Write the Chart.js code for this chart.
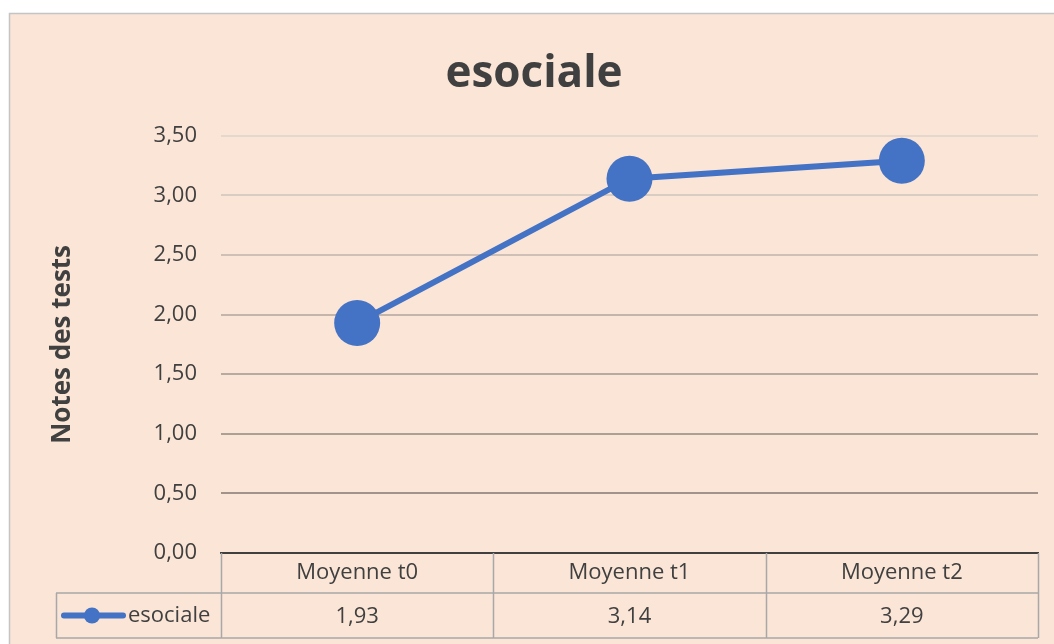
<!DOCTYPE html>
<html>
<head>
<meta charset="utf-8">
<script src="https://cdn.jsdelivr.net/npm/chart.js@4/dist/chart.umd.min.js"></script>
<style>
  html, body { margin: 0; padding: 0; background: #fff; }
  #wrap { width: 1054px; height: 644px; }
</style>
</head>
<body>
<div id="wrap"><canvas id="chart" width="1054" height="644"></canvas></div>
<script>
// data
const categories = ['Moyenne t0', 'Moyenne t1', 'Moyenne t2'];
const seriesName = 'esociale';
const esociale = [1.93, 3.14, 3.29];
const yTicks = [0, 0.5, 1, 1.5, 2, 2.5, 3, 3.5];

const BLUE = '#4472C4';
const TEXT = '#404040';
const TABLE_LINE = '#a8a8a8';
const FONT = "'Open Sans', sans-serif";

// comma decimals, like the french excel sheet
const fmt = v => v.toFixed(2).replace('.', ',');

// gridlines get darker toward the bottom in the original
function gridShade(i) {
  const top = [228, 215, 205], bot = [150, 136, 128];
  const t = i / (yTicks.length - 1);
  const c = bot.map((b, k) => Math.round(b + (top[k] - b) * t));
  return 'rgb(' + c.join(',') + ')';
}

const background = {
  id: 'background',
  beforeDraw(chart) {
    const c = chart.ctx;
    c.save();
    c.fillStyle = '#fff';
    c.fillRect(0, 0, chart.width, chart.height);
    c.fillStyle = '#FBE5D6';
    c.fillRect(9, 13, chart.width - 9, chart.height - 13);
    c.strokeStyle = '#c4c4c4';
    c.lineWidth = 1.5;
    c.beginPath();
    c.moveTo(9.5, chart.height);
    c.lineTo(9.5, 13.5);
    c.lineTo(chart.width, 13.5);
    c.stroke();
    c.restore();
  }
};

// excel style data table under the plot
const dataTable = {
  id: 'dataTable',
  afterDraw(chart) {
    const c = chart.ctx;
    const area = chart.chartArea;
    const n = categories.length;
    const w = (area.right - area.left) / n;
    const top = area.bottom, mid = top + 40, bot = top + 85;
    const legLeft = 56;

    c.save();
    c.strokeStyle = TABLE_LINE;
    c.lineWidth = 1.5;
    c.beginPath();
    for (let i = 0; i <= n; i++) {
      const x = Math.round(area.left + i * w) + 0.5;
      c.moveTo(x, top);
      c.lineTo(x, bot);
    }
    c.moveTo(legLeft, mid);
    c.lineTo(area.right, mid);
    c.moveTo(legLeft, bot);
    c.lineTo(area.right, bot);
    c.moveTo(legLeft + 0.5, mid);
    c.lineTo(legLeft + 0.5, bot);
    c.stroke();

    c.fillStyle = TEXT;
    c.font = '22px ' + FONT;
    c.textAlign = 'center';
    c.textBaseline = 'middle';
    const xs = chart.scales.x;
    categories.forEach((cat, i) => {
      const x = xs.getPixelForValue(i);
      c.fillText(cat, x, (top + mid) / 2);
      c.fillText(fmt(esociale[i]), x, (mid + bot) / 2 + 1);
    });

    // legend key
    const ly = (mid + bot) / 2;
    c.strokeStyle = BLUE;
    c.lineWidth = 6;
    c.lineCap = 'round';
    c.beginPath();
    c.moveTo(64, ly);
    c.lineTo(123, ly);
    c.stroke();
    c.fillStyle = BLUE;
    c.beginPath();
    c.arc(92, ly, 8, 0, Math.PI * 2);
    c.fill();
    c.fillStyle = TEXT;
    c.textAlign = 'left';
    c.fillText(seriesName, 128, ly);
    c.restore();
  }
};

new Chart(document.getElementById('chart'), {
  type: 'line',
  data: {
    labels: categories,
    datasets: [{
      label: seriesName,
      data: esociale,
      borderColor: BLUE,
      backgroundColor: BLUE,
      borderWidth: 6,
      pointRadius: 23,
      pointHoverRadius: 23,
      pointBorderWidth: 0,
      pointBackgroundColor: BLUE,
      tension: 0,
      clip: false
    }]
  },
  options: {
    responsive: false,
    animation: false,
    events: [],
    layout: { autoPadding: false, padding: { left: 30, top: 13, right: 16, bottom: 91 } },
    plugins: {
      legend: { display: false },
      tooltip: { enabled: false },
      title: {
        display: true,
        text: 'esociale',
        color: TEXT,
        font: { family: FONT, size: 44, weight: 'bold' },
        padding: { top: 35, bottom: 35 }
      }
    },
    scales: {
      x: {
        type: 'category',
        offset: true,
        grid: { display: false, drawTicks: false },
        ticks: { display: false },
        border: { display: true, color: '#404040', width: 2 },
        afterFit(scale) {
          scale.height = 0;
          scale.paddingLeft = 0;
          scale.paddingRight = 0;
        }
      },
      y: {
        min: 0,
        max: 3.5,
        afterBuildTicks(scale) { scale.ticks = yTicks.map(v => ({ value: v })); },
        ticks: {
          color: TEXT,
          padding: 24,
          font: { family: FONT, size: 22 },
          callback: v => fmt(v)
        },
        grid: {
          drawTicks: false,
          lineWidth: 2,
          color: ctx => gridShade(ctx.index)
        },
        border: { display: false },
        title: {
          display: true,
          text: 'Notes des tests',
          color: TEXT,
          font: { family: FONT, size: 26, weight: 'bold' },
          padding: { top: 17, bottom: 0 }
        },
        afterFit(scale) { scale.width = 221 - 30; }
      }
    }
  },
  plugins: [background, dataTable]
});
</script>
</body>
</html>
